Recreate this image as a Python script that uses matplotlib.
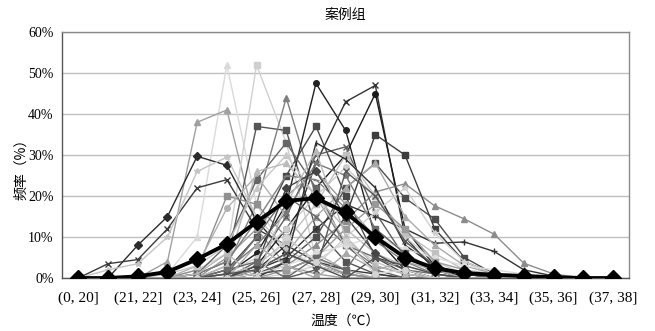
import matplotlib
matplotlib.use("Agg")
import matplotlib.pyplot as plt
import numpy as np

categories = ["(0, 20]", "(20, 21]", "(21, 22]", "(22, 23]", "(23, 24]", "(24, 25]",
              "(25, 26]", "(26, 27]", "(27, 28]", "(28, 29]", "(29, 30]", "(30, 31]",
              "(31, 32]", "(32, 33]", "(33, 34]", "(34, 35]", "(35, 36]", "(36, 37]", "(37, 38]"]

s01 = [0, 0, 0, 1, 10, 52, 18, 6, 2, 1, 0, 0, 0, 0, 0, 0, 0, 0, 0]
s02 = [0, 0, 0, 4, 38, 41, 12, 3, 1, 0, 0, 0, 0, 0, 0, 0, 0, 0, 0]
s03 = [0, 0, 0, 0, 2, 6, 52, 33, 5, 1, 0, 0, 0, 0, 0, 0, 0, 0, 0]
s04 = [0, 0, 0, 0, 1, 4, 37, 36, 12, 4, 1, 0, 0, 0, 0, 0, 0, 0, 0]
s05 = [0, 0, 0, 0, 0, 3, 18, 44, 20, 8, 3, 1, 0, 0, 0, 0, 0, 0, 0]
s06 = [0, 0, 0, 0, 0, 1, 6, 18, 47.5, 36, 10, 2, 0, 0, 0, 0, 0, 0, 0]
s07 = [0, 0, 0, 0, 0, 0, 2, 8, 28, 43, 47, 10, 2, 0, 0, 0, 0, 0, 0]
s08 = [0, 0, 0, 0, 0, 0, 3, 12, 22, 30, 45, 12, 3, 0, 0, 0, 0, 0, 0]
s09 = [0, 0, 8, 15, 29.7, 27.5, 14, 6, 3, 1, 0, 0, 0, 0, 0, 0, 0, 0, 0]
s10 = [0, 3.5, 4.5, 12, 22, 24, 12, 8, 4, 2, 1, 0, 0, 0, 0, 0, 0, 0, 0]
s11 = [0, 2, 3.5, 10, 26, 29.5, 15, 7, 3, 1, 0, 0, 0, 0, 0, 0, 0, 0, 0]
s12 = [0, 0, 0, 0, 0, 0, 1, 3, 8, 14, 21, 23, 17.6, 14.4, 10.7, 3.6, 1, 0, 0]
s13 = [0, 0, 0, 0, 0, 0, 1, 4, 10, 22, 28, 19.5, 14.4, 5, 1, 0, 0, 0, 0]
s14 = [0, 0, 0, 0, 0, 0, 2, 5, 12, 18, 15, 12, 8.5, 8.8, 6.5, 2, 0.5, 0, 0]
s15 = [0, 0, 0, 0, 2, 20, 18, 10, 4, 1, 0, 0, 0, 0, 0, 0, 0, 0, 0]
s16 = [0, 0, 0, 0, 3, 17, 25, 15, 6, 2, 0, 0, 0, 0, 0, 0, 0, 0, 0]
s17 = [0, 0, 0, 0, 1, 8, 24, 33, 22, 8, 2, 0, 0, 0, 0, 0, 0, 0, 0]
s18 = [0, 0, 0, 0, 0, 2, 10, 25, 37, 20, 5, 1, 0, 0, 0, 0, 0, 0, 0]
s19 = [0, 0, 0, 0, 0, 0, 4, 15, 30, 32, 16, 5, 2, 0, 0, 0, 0, 0, 0]
s20 = [0, 0, 0, 1, 3, 8, 22, 30, 20, 9, 4, 1, 0, 0, 0, 0, 0, 0, 0]
s21 = [0, 0, 0, 0, 0, 5, 12, 20, 26, 18, 10, 5, 2, 1, 0, 0, 0, 0, 0]
s22 = [0, 0, 0, 0, 0, 2, 8, 16, 28, 25, 12, 6, 2, 0, 0, 0, 0, 0, 0]
s23 = [0, 0, 0, 0, 1, 4, 14, 25, 24, 17, 9, 4, 1, 0, 0, 0, 0, 0, 0]
s24 = [0, 0, 0, 0, 0, 1, 5, 12, 20, 27, 20, 10, 4, 1, 0, 0, 0, 0, 0]
s25 = [0, 0, 0, 0, 0, 0, 2, 6, 15, 22, 28, 15, 8, 3, 1, 0, 0, 0, 0]
s26 = [0, 0, 0, 0, 0, 3, 26, 28, 20, 12, 6, 3, 1, 0, 0, 0, 0, 0, 0]
s27 = [0, 0, 0, 0, 0, 1, 3, 9, 18, 30, 20, 11, 6, 2, 1, 0, 0, 0, 0]
s28 = [0, 0, 0, 0, 0, 0, 0, 4, 33, 29, 22, 8, 3, 1, 0, 0, 0, 0, 0]
s29 = [0, 0, 0, 0, 0, 0, 1, 2, 5, 15, 35, 30, 12, 4, 1, 0, 0, 0, 0]
s30 = [0, 0, 0, 0, 0, 1, 10, 20, 15, 8, 5, 2, 1, 0, 0, 0, 0, 0, 0]
s31 = [0, 0, 0, 0, 0, 0, 0, 1, 3, 10, 16, 22, 11, 4, 1, 0, 0, 0, 0]
s32 = [0, 0, 0, 0, 0, 0, 3, 22, 26, 15, 6, 2, 0, 0, 0, 0, 0, 0, 0]
s33 = [0, 0, 0, 0, 0, 0, 1, 3, 6, 8, 10, 7, 5, 3, 2, 1, 0, 0, 0]
s34 = [0, 0, 0, 0, 0, 0, 0, 2, 5, 12, 18, 12, 4, 2, 0, 0, 0, 0, 0]
s35 = [0, 0, 0, 0, 0, 0, 0, 0, 2, 26, 20, 9, 3, 1, 0, 0, 0, 0, 0]
s36 = [0, 0, 0, 0, 1, 6, 0, 18, 31, 10, 3, 1, 0, 0, 0, 0, 0, 0, 0]
s37 = [0, 0, 0, 0, 0, 2, 4, 0, 5, 2, 12, 6, 1, 0, 0, 0, 0, 0, 0]
s38 = [0, 0, 0, 0, 0, 0, 8, 3, 0, 6, 2, 4, 2, 0, 0, 0, 0, 0, 0]
s39 = [0, 0, 0, 0, 0, 1, 2, 6, 3, 0, 5, 3, 1, 0, 0, 0, 0, 0, 0]
s40 = [0, 0, 0, 0, 0, 0, 0, 10, 4, 9, 1, 2, 0, 0, 0, 0, 0, 0, 0]

mean = [0, 0, 0.4, 1.5, 4.6, 8.3, 13.7, 18.8, 19.5, 16, 10, 5, 2.4, 1.2, 0.8, 0.5, 0.2, 0, 0]

series = [s01, s02, s03, s04, s05, s06, s07, s08, s09, s10, s11, s12, s13, s14, s15, s16, s17, s18,
          s19, s20, s21, s22, s23, s24, s25, s26, s27, s28, s29, s30, s31, s32, s33, s34, s35, s36,
          s37, s38, s39, s40]
markers = ['^', '^', 's', 's', '^', 'o', 'x', 'o', 'D', 'x', '*', '^', 's', '+', 's', 'o', 's', 's',
           'x', '^', 'o', '*', '_', 'o', '^', '^', 's', '|', 's', 'x', '*', 'D', 'o', 's', 'x', '^',
           's', '^', 'x', 'o']
colors = ['#dadada', '#a0a0a0', '#d0d0d0', '#555555', '#7f7f7f', '#222222', '#333333', '#1a1a1a',
          '#2b2b2b', '#3a3a3a', '#c4c4c4', '#8c8c8c', '#4d4d4d', '#333333', '#909090', '#b0b0b0',
          '#666666', '#4a4a4a', '#5e5e5e', '#c8c8c8', '#999999', '#777777', '#808080', '#cccccc',
          '#aaaaaa', '#bbbbbb', '#c0c0c0', '#2e2e2e', '#3d3d3d', '#6e6e6e', '#d0d0d0', '#444444',
          '#dddddd', '#9a9a9a', '#585858', '#b8b8b8', '#6a6a6a', '#a8a8a8', '#4f4f4f', '#d4d4d4']

cjk = ['Noto Sans CJK SC', 'DejaVu Sans']
serif = ['Liberation Serif', 'DejaVu Serif']

fig = plt.figure(figsize=(6.55, 3.31), dpi=100)
ax = fig.add_axes([0.0947, 0.160, 0.866, 0.743])
x = np.arange(len(categories))

for vals, m, c in zip(series, markers, colors):
    ax.plot(x, vals, color=c, marker=m, markersize=4, linewidth=1.0,
            markeredgewidth=1.0, zorder=2)
ax.plot(x, mean, color='black', marker='D', markersize=8, linewidth=2.8, zorder=5)

ax.set_ylim(0, 60)
ax.set_xlim(-0.55, len(categories) - 1 + 0.55)
ax.set_yticks(np.arange(0, 61, 10))
ax.set_yticklabels([f"{v}%" for v in range(0, 61, 10)], fontfamily=serif, fontsize=10)
ax.set_xticks(x[::2])
ax.set_xticklabels(categories[::2], fontfamily=serif, fontsize=11)
ax.tick_params(axis='y', length=0, pad=6)
ax.tick_params(axis='x', length=0, pad=10)
ax.yaxis.grid(True, color='#c0c0c0', linewidth=1.0)
ax.set_axisbelow(True)
for sp in ax.spines.values():
    sp.set_color('#8a8a8a')
    sp.set_linewidth(1.0)
ax.spines['left'].set_color('#555555')
ax.spines['bottom'].set_color('#555555')

fig.text(0.527, 0.955, "案例组", ha='center', va='center', fontfamily=cjk, fontsize=10)
fig.text(0.527, 0.027, "温度（℃）", ha='center', va='center', fontfamily=cjk, fontsize=10)
fig.text(0.032, 0.50, "频率（%）", ha='center', va='center', rotation=90, fontfamily=cjk, fontsize=10)

fig.savefig("out.png", dpi=100)
